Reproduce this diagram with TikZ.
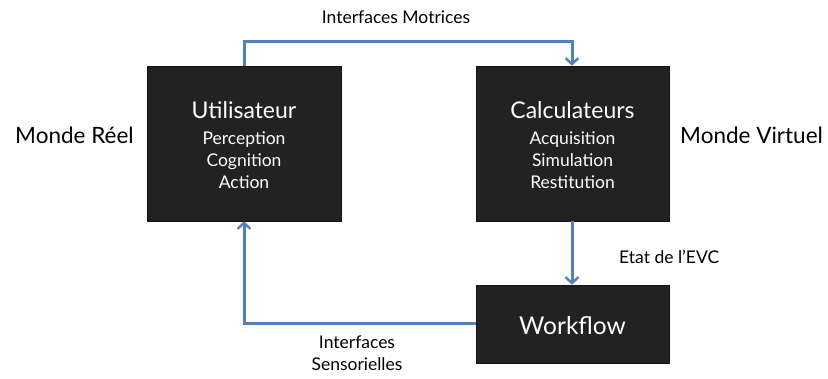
\documentclass[tikz,border=0pt]{standalone}
\usepackage{fontspec}
\setmainfont{Lato}
\usetikzlibrary{arrows.meta,shadows}
\definecolor{boxfill}{HTML}{222222}
\definecolor{arrowblue}{HTML}{4F81BD}
\begin{document}
\begin{tikzpicture}[x=1pt,y=-1pt,
  darkbox/.style={draw=boxfill!60!black, fill=boxfill, line width=0.6pt,
    drop shadow={shadow xshift=1.2pt, shadow yshift=-1.2pt, opacity=0.35}},
  flow/.style={draw=arrowblue, line width=3pt, -{Straight Barb[length=6pt,width=13pt,line width=2.4pt]}},
  ttl/.style={text=white, anchor=base, inner sep=0pt, font=\fontsize{23}{28}\selectfont},
  sub/.style={text=white, anchor=base, inner sep=0pt, font=\fontsize{17.5}{21}\selectfont},
  lbl/.style={anchor=base, inner sep=0pt, font=\fontsize{17.5}{21}\selectfont},
  side/.style={anchor=base west, inner sep=0pt, font=\fontsize{22.5}{26}\selectfont}]
\useasboundingbox (0,0) rectangle (828,378);
\node[darkbox, minimum width=194pt, minimum height=155pt] (user) at (244,143.5) {};
\node[darkbox, minimum width=193pt, minimum height=155pt] (calc) at (572.5,143.5) {};
\node[darkbox, minimum width=193pt, minimum height=78pt] (work) at (572.5,324) {};
\node[ttl] (u0) at (244,118) {Utilisateur};
\node[sub] (u1) at (244,144) {Perception};
\node[sub] (u2) at (244,166) {Cognition};
\node[sub] (u3) at (244,188) {Action};
\node[ttl] (c0) at (572.5,118) {Calculateurs};
\node[sub] (c1) at (572.5,144) {Acquisition};
\node[sub] (c2) at (572.5,166) {Simulation};
\node[sub] (c3) at (572.5,188) {Restitution};
\node[ttl, font=\fontsize{24.5}{28}\selectfont] (workt) at (572.5,334) {Workflow};
\coordinate (tl) at (244,41);
\coordinate (tr) at (572,41);
\coordinate (bl) at (244,323);
\draw[flow] (user.north -| tl) -- (tl) -- (tr) -- (calc.north -| tr);
\draw[flow] (calc.south -| tr) -- (work.north -| tr);
\draw[flow] (work.west |- bl) -- (bl) -- (user.south -| bl);
\node[lbl] (im) at (396,23) {Interfaces Motrices};
\node[lbl, anchor=base west] (etat) at (619,263) {Etat de l’EVC};
\node[lbl] (is1) at (357,348) {Interfaces};
\node[lbl] (is2) at (357,370) {Sensorielles};
\node[side] (mr) at (15,143) {Monde Réel};
\node[side] (mv) at (680,143) {Monde Virtuel};
\end{tikzpicture}
\end{document}
